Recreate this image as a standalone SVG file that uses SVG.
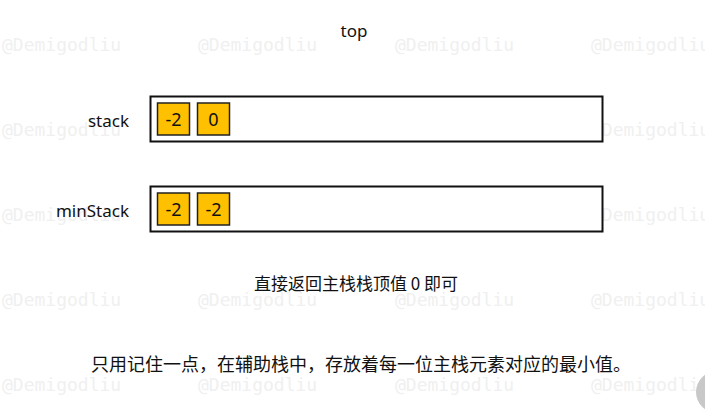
<svg xmlns="http://www.w3.org/2000/svg" width="705" height="410" viewBox="0 0 705 410">
<style>
.wm{font-family:"DejaVu Sans Mono","Liberation Mono",monospace;font-size:18px;fill:#f0f0f0}
.lbl{font-family:"Noto Sans","Open Sans",sans-serif;font-size:17px;fill:#111}
.cn{font-family:"Noto Sans CJK SC","Noto Sans",sans-serif;fill:#111}
.box{fill:#fff;stroke:#111;stroke-width:2}
.cell{fill:#FFC000;stroke:#222;stroke-width:1.5}
.ct{font-family:"Noto Sans","Open Sans",sans-serif;font-size:18px;fill:#111;text-anchor:middle}
</style>
<rect width="705" height="410" fill="#fff"/>
<g id="watermarks">
<text class="wm" x="2" y="51">@Demigodliu</text><text class="wm" x="198" y="51">@Demigodliu</text><text class="wm" x="395" y="51">@Demigodliu</text><text class="wm" x="591" y="51">@Demigodliu</text>
<text class="wm" x="2" y="136">@Demigodliu</text><text class="wm" x="198" y="136">@Demigodliu</text><text class="wm" x="395" y="136">@Demigodliu</text><text class="wm" x="591" y="136">@Demigodliu</text>
<text class="wm" x="2" y="221">@Demigodliu</text><text class="wm" x="198" y="221">@Demigodliu</text><text class="wm" x="395" y="221">@Demigodliu</text><text class="wm" x="591" y="221">@Demigodliu</text>
<text class="wm" x="2" y="306">@Demigodliu</text><text class="wm" x="198" y="306">@Demigodliu</text><text class="wm" x="395" y="306">@Demigodliu</text><text class="wm" x="591" y="306">@Demigodliu</text>
<text class="wm" x="2" y="391">@Demigodliu</text><text class="wm" x="198" y="391">@Demigodliu</text><text class="wm" x="395" y="391">@Demigodliu</text><text class="wm" x="591" y="391">@Demigodliu</text>
</g>
<g id="top"><text class="lbl" x="354" y="37" text-anchor="middle">top</text></g>
<g id="stack">
<text class="lbl" x="129" y="127" text-anchor="end">stack</text>
<rect class="box" x="150.5" y="96.5" width="452" height="45"/>
<rect class="cell" x="157.5" y="103" width="32" height="32"/><text class="ct" x="173.5" y="125.5">-2</text>
<rect class="cell" x="197.5" y="103" width="32" height="32"/><text class="ct" x="213.5" y="125.5">0</text>
</g>
<g id="minStack">
<text class="lbl" x="129" y="217" text-anchor="end">minStack</text>
<rect class="box" x="150.5" y="186.5" width="452" height="45"/>
<rect class="cell" x="157.5" y="193" width="32" height="32"/><text class="ct" x="173.5" y="215.5">-2</text>
<rect class="cell" x="197.5" y="193" width="32" height="32"/><text class="ct" x="213.5" y="215.5">-2</text>
</g>
<g id="note1"><text class="cn" x="356" y="290" font-size="17" text-anchor="middle">直接返回主栈栈顶值 0 即可</text></g>
<g id="note2"><text class="cn" x="361" y="371" font-size="18" text-anchor="middle">只用记住一点，在辅助栈中，存放着每一位主栈元素对应的最小值。</text></g>
<circle cx="717" cy="392" r="21" fill="#c8c8c8"/>
</svg>
